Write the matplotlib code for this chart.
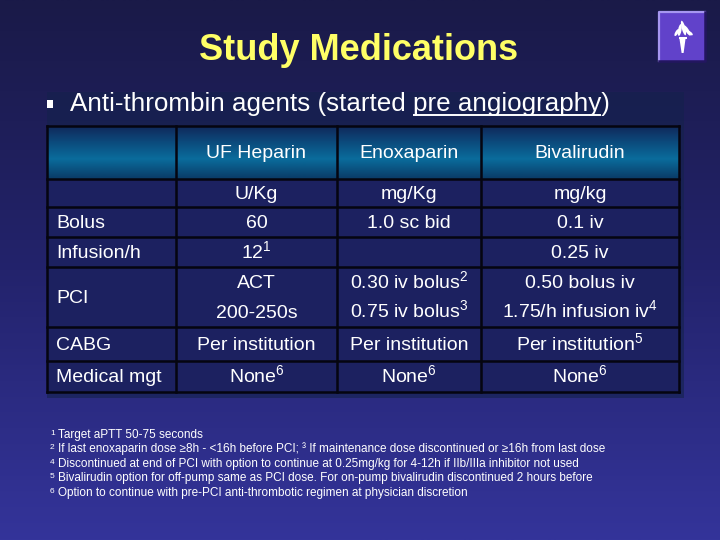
import matplotlib
matplotlib.use('Agg')
import matplotlib.pyplot as plt
import numpy as np
from matplotlib.patches import Rectangle, Polygon, Ellipse
from matplotlib.colors import LinearSegmentedColormap

plt.rcParams['mathtext.default'] = 'regular'

# ---------------- data ----------------
title = "Study Medications"
bullet_text = "Anti-thrombin agents (started pre angiography)"
underlined_part = "pre angiography"
col_headers = ["", "UF Heparin", "Enoxaparin", "Bivalirudin"]
row_labels = ["", "Bolus", "Infusion/h", "PCI", "CABG", "Medical mgt"]
uf_heparin = ["U/Kg", "60", "12¹", "ACT\n200-250s", "Per institution", "None⁶"]
enoxaparin = ["mg/Kg", "1.0 sc bid", "", "0.30 iv bolus²\n0.75 iv bolus³",
              "Per institution", "None⁶"]
bivalirudin = ["mg/kg", "0.1 iv", "0.25 iv", "0.50 bolus iv\n1.75/h infusion iv⁴",
               "Per institution⁵", "None⁶"]
footnote_marks = ["¹", "²", "⁴", "⁵", "⁶"]
footnote_texts = [
    "Target aPTT 50-75 seconds",
    "If last enoxaparin dose ≥8h - <16h before PCI; ³ If maintenance dose discontinued or ≥16h from last dose",
    "Discontinued at end of PCI with option to continue at 0.25mg/kg for 4-12h if IIb/IIIa inhibitor not used",
    "Bivalirudin option for off-pump same as PCI dose. For on-pump bivalirudin discontinued 2 hours before",
    "Option to continue with pre-PCI anti-thrombotic regimen at physician discretion",
]

SUP = {'¹': '1', '²': '2', '³': '3', '⁴': '4', '⁵': '5', '⁶': '6'}
def sup(s):
    return ''.join('$^{%s}$' % SUP[c] if c in SUP else c for c in s)

# ---------------- layout ----------------
FONT = ['Liberation Sans', 'DejaVu Sans']
col_edges = [47, 176, 337, 481, 679]
row_edges = [126, 179, 207, 237, 267, 327, 361, 392]

fig = plt.figure(figsize=(7.2, 5.4), dpi=100)
ax = fig.add_axes([0, 0, 1, 1])
ax.set_xlim(0, 720)
ax.set_ylim(540, 0)
ax.axis('off')

# background gradient
bg_cmap = LinearSegmentedColormap.from_list('bg', ['#1a1a48', '#23236c', '#34349a'])
grad = np.linspace(0, 1, 256).reshape(-1, 1)
ax.imshow(grad, extent=[0, 720, 540, 0], aspect='auto', cmap=bg_cmap, zorder=0,
          interpolation='bilinear')

# darker panel / shadow behind the table
ax.add_patch(Rectangle((47, 92), 637, 306, facecolor='#14224c', edgecolor='none',
                       alpha=0.6, zorder=1))

# title
ax.text(359, 51, title, ha='center', va='center', fontsize=26, fontweight='bold',
        color='#ffff66', family=FONT, zorder=5)

# bullet line
BS = 18.7
ax.add_patch(Rectangle((47, 100), 6, 8, facecolor='white', edgecolor='none', zorder=5))
ax.text(70, 111, bullet_text, ha='left', va='baseline', fontsize=BS,
        color='white', family=FONT, zorder=5)
fig.canvas.draw()
r = fig.canvas.get_renderer()
def width_of(s):
    t = ax.text(0, 0, s, fontsize=BS, family=FONT)
    bb = t.get_window_extent(renderer=r)
    t.remove()
    return bb.width
full_w = width_of(bullet_text)
suffix = bullet_text[bullet_text.index(underlined_part):]
tail = suffix[len(underlined_part):]
x_start = 70 + (full_w - width_of(suffix))
x_end = 70 + (full_w - width_of(tail))
ax.plot([x_start, x_end], [114.5, 114.5], color='white', lw=1.4, zorder=5,
        solid_capstyle='butt')

# header gradient
hdr_cmap = LinearSegmentedColormap.from_list(
    'hdr', [(0, '#10285a'), (0.3, '#0c4a7c'), (0.62, '#0a6c9c'), (1.0, '#0a3a66')])
ax.imshow(grad, extent=[col_edges[0], col_edges[-1], row_edges[1], row_edges[0]],
          aspect='auto', cmap=hdr_cmap, zorder=2, interpolation='bilinear')
# body cells
ax.add_patch(Rectangle((col_edges[0], row_edges[1]), col_edges[-1] - col_edges[0],
                       row_edges[-1] - row_edges[1], facecolor='#1c2160',
                       edgecolor='none', zorder=2))
# grid lines
for x in col_edges:
    ax.plot([x, x], [row_edges[0], row_edges[-1]], color='#050510', lw=1.8, zorder=3)
for y in row_edges:
    ax.plot([col_edges[0], col_edges[-1]], [y, y], color='#050510', lw=1.8, zorder=3)

TS = 14
# headers
for j, h in enumerate(col_headers):
    if h:
        ax.text((col_edges[j] + col_edges[j + 1]) / 2, (row_edges[0] + row_edges[1]) / 2 + 1,
                h, ha='center', va='center', fontsize=TS, color='white', family=FONT,
                zorder=4)

def cell_text(x, yc, s, ha='center'):
    lines = s.split('\n')
    n = len(lines)
    for k, ln in enumerate(lines):
        y = yc + (k - (n - 1) / 2) * 29
        ax.text(x, y + 5, sup(ln), ha=ha, va='baseline', fontsize=TS, color='white',
                family=FONT, zorder=4)

columns = [uf_heparin, enoxaparin, bivalirudin]
for i, lab in enumerate(row_labels):
    yc = (row_edges[i + 1] + row_edges[i + 2]) / 2 + 1
    if lab:
        cell_text(56, yc, lab, ha='left')
    for j, col in enumerate(columns):
        if col[i]:
            cell_text((col_edges[j + 1] + col_edges[j + 2]) / 2, yc, col[i])

# footnotes
for k, (m, t) in enumerate(zip(footnote_marks, footnote_texts)):
    y = 434 + k * 14.4 + 4
    ax.text(50, y - 3, SUP[m], ha='left', va='baseline', fontsize=6, color='white',
            family=FONT, zorder=4)
    ax.text(58, y, t, ha='left', va='baseline', fontsize=8.5, color='white',
            family=FONT, zorder=4)

# logo (torch emblem)
ax.add_patch(Rectangle((659, 12), 46, 49, facecolor='#6142ca', edgecolor='none', zorder=4))
ax.plot([659, 659, 705], [61, 12, 12], color='#a696f0', lw=1.6, zorder=5)
ax.plot([659, 705, 705], [61, 61, 12], color='#231660', lw=1.8, zorder=5)
ax.add_patch(Polygon([[679.5, 39], [685.5, 39], [683.6, 53], [681.6, 53]],
                     facecolor='white', edgecolor='none', zorder=6))
ax.add_patch(Rectangle((678.5, 36.5), 8, 2.5, facecolor='white', edgecolor='none', zorder=6))
for (cx, cy, w, h, ang) in [(683.5, 28, 3.6, 15, -15), (679.8, 30, 3.4, 12, 10),
                            (687.2, 30.5, 3.4, 12, -32), (676.8, 32.5, 3.0, 8, 30),
                            (689.8, 33, 3.0, 7, -55)]:
    ax.add_patch(Ellipse((cx, cy), w, h, angle=ang, facecolor='white',
                         edgecolor='none', zorder=6))

fig.savefig('out.png', dpi=100)
